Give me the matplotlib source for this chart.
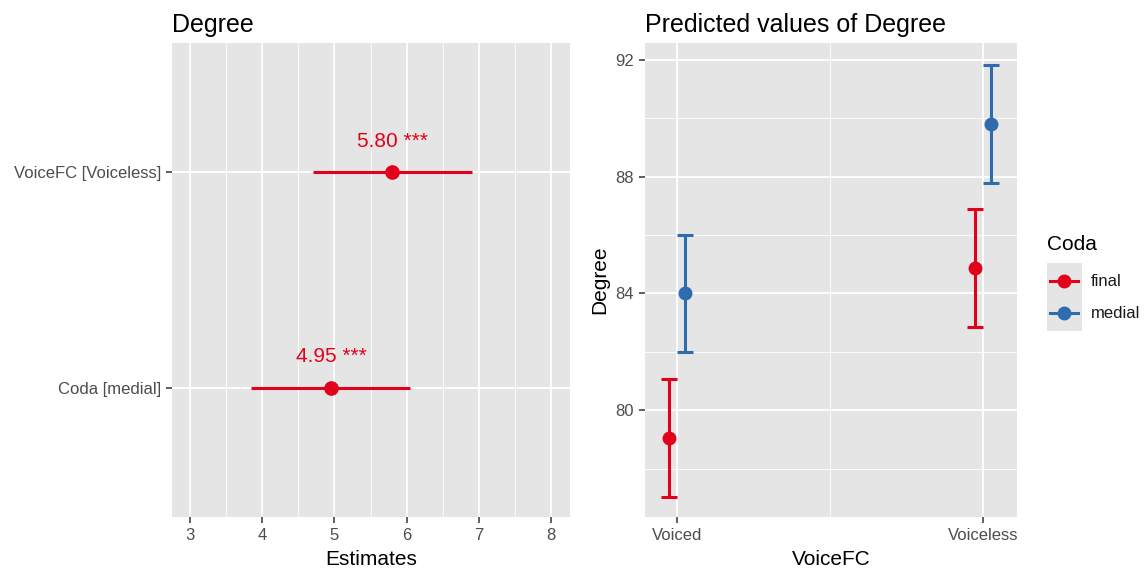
import matplotlib.pyplot as plt
from matplotlib.lines import Line2D
from matplotlib.patches import Rectangle
import numpy as np

plt.rcParams['font.family'] = ['Liberation Sans', 'DejaVu Sans']

# model estimates (forest plot)
terms = ['Coda [medial]', 'VoiceFC [Voiceless]']
estimates = [4.95, 5.80]
ci_low = [3.85, 4.70]
ci_high = [6.05, 6.90]
stars = ['***', '***']

# predicted values
voice_levels = ['Voiced', 'Voiceless']
coda_levels = ['final', 'medial']
pred = {'final': [79.04, 84.86], 'medial': [84.00, 89.80]}
pred_low = {'final': [77.02, 82.84], 'medial': [82.00, 87.80]}
pred_high = {'final': [81.06, 86.88], 'medial': [86.00, 91.83]}

red = '#e3001b'
blue = '#2e6cad'
colors = {'final': red, 'medial': blue}
bg = '#e5e5e5'
tick_col = '#4d4d4d'


def gg_style(ax):
    ax.set_facecolor(bg)
    for s in ax.spines.values():
        s.set_visible(False)
    ax.tick_params(axis='both', which='major', colors='#333333', labelcolor=tick_col,
                   labelsize=12, length=4, width=1.1, pad=4)
    ax.tick_params(axis='both', which='minor', length=0)
    ax.grid(True, which='major', color='white', linewidth=1.3)
    ax.grid(True, which='minor', color='white', linewidth=0.6)
    ax.set_axisbelow(True)


fig = plt.figure(figsize=(11.48, 5.68), dpi=100)

# left: estimates
ax1 = fig.add_axes([0.1498, 0.0898, 0.3467, 0.8345])
gg_style(ax1)
ypos = np.arange(1, len(terms) + 1)
ax1.hlines(ypos, ci_low, ci_high, color=red, linewidth=2.2, zorder=3)
ax1.plot(estimates, ypos, 'o', color=red, markersize=9.5, zorder=4)
for x, y, st in zip(estimates, ypos, stars):
    ax1.text(x, y + 0.1, f'{x:.2f} {st}', color=red, fontsize=15,
             ha='center', va='bottom')
ax1.set_xlim(2.75, 8.26)
ax1.set_ylim(0.4, 2.6)
ax1.set_xticks(np.arange(3, 9))
ax1.set_xticks(np.arange(3.5, 8, 1), minor=True)
ax1.set_yticks(ypos)
ax1.set_yticklabels(terms)
ax1.set_xlabel('Estimates', fontsize=15, labelpad=5)
ax1.set_title('Degree', loc='left', fontsize=18, pad=8)

# right: predicted values by Coda
ax2 = fig.add_axes([0.5618, 0.0898, 0.324, 0.8345])
gg_style(ax2)
xpos = np.arange(1, len(voice_levels) + 1)
dodge = {'final': -0.026, 'medial': 0.026}
for lvl in coda_levels:
    y = np.array(pred[lvl])
    lo = y - np.array(pred_low[lvl])
    hi = np.array(pred_high[lvl]) - y
    ax2.errorbar(xpos + dodge[lvl], y, yerr=[lo, hi], fmt='o', color=colors[lvl],
                 markersize=9, elinewidth=2.2, capsize=5.5, capthick=2.2,
                 zorder=3)
ax2.set_xlim(0.895, 2.11)
ax2.set_ylim(76.34, 92.58)
ax2.set_xticks(xpos)
ax2.set_xticklabels(voice_levels)
ax2.set_xticks([1.5], minor=True)
ax2.set_yticks([80, 84, 88, 92])
ax2.set_yticks([78, 82, 86, 90], minor=True)
ax2.set_xlabel('VoiceFC', fontsize=15, labelpad=5)
ax2.set_ylabel('Degree', fontsize=15, labelpad=4)
ax2.set_title('Predicted values of Degree', loc='left', fontsize=18, pad=8)

# legend, ggplot style with a grey key box
W, H = 1148, 568
fig.text(1047 / W, 1 - 245 / H, 'Coda', fontsize=15, va='center', ha='left')
fig.add_artist(Rectangle((1047 / W, 1 - 331 / H), 35 / W, 68 / H,
                         transform=fig.transFigure, facecolor=bg,
                         edgecolor='none', zorder=1))
for i, lvl in enumerate(coda_levels):
    ky = 1 - (281 + i * 32) / H
    fig.add_artist(Line2D([1050 / W, 1078 / W], [ky, ky], transform=fig.transFigure,
                          color=colors[lvl], linewidth=2.2, zorder=2))
    fig.add_artist(Line2D([1064 / W], [ky], transform=fig.transFigure, marker='o',
                          markersize=9, color=colors[lvl], zorder=3))
    fig.text(1091 / W, ky, lvl, fontsize=12, va='center', ha='left', color='#1a1a1a')

fig.savefig('out.png', dpi=100)
